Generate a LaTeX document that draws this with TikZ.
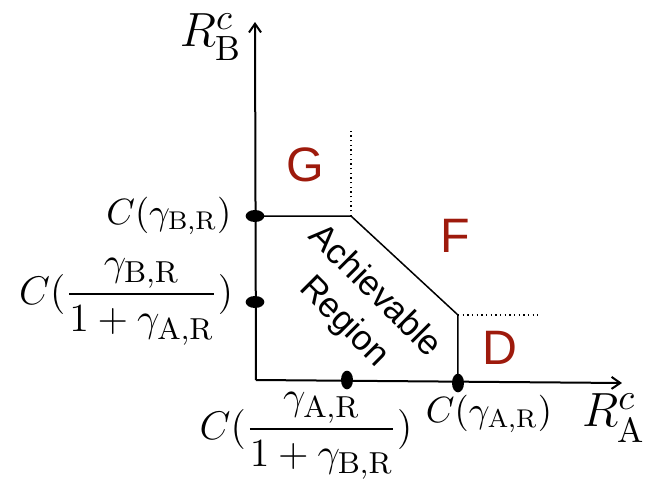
\documentclass[tikz,border=0pt]{standalone}
\usepackage{amsmath}
\usepackage{fontspec}
\newfontfamily\regfont{Liberation Sans}
\usetikzlibrary{arrows.meta, shapes.geometric, positioning}
\definecolor{rgRed}{HTML}{9E1A0C}
\tikzset{
  % axes, region boundary and its open continuations
  axisline/.style  = {-{Straight Barb[length=2.6pt, width=3.6pt]}, line width=0.6pt, black},
  bound/.style     = {line width=0.45pt, black},
  ext/.style       = {densely dotted, line width=0.4pt, black},
  hdot/.style      = {ellipse, fill=black, inner sep=0pt, minimum width=5.6pt, minimum height=3.6pt},
  vdot/.style      = {ellipse, fill=black, inner sep=0pt, minimum width=3.6pt, minimum height=5.6pt},
  rlbl/.style      = {font=\fontsize{11}{13}\selectfont},
  flbl/.style      = {font=\fontsize{13}{15}\selectfont},
  axlbl/.style     = {font=\fontsize{15}{17}\selectfont},
  zone/.style      = {rgRed, font=\regfont\fontsize{14.5}{16}\selectfont},
}
\begin{document}
\begin{tikzpicture}[x=0.3pt, y=-0.3pt]
  \useasboundingbox (0,0) rectangle (647,485);
  % axes
  \coordinate (O) at (256,380);
  \coordinate (xend) at (622,383);
  \coordinate (yend) at (255,22);
  \draw[axisline] (O) -- (xend);
  \draw[axisline] (O) -- (yend);
  \node[axlbl] (RA) at (614,418) {$R^c_{\mathrm{A}}$};
  \node[axlbl] (RB) at (211,37) {$R^c_{\mathrm{B}}$};
  % corners of the region
  \coordinate (Bmax) at (255,216);
  \coordinate (P1) at (351,216);
  \coordinate (P2) at (458,315);
  \coordinate (Amax) at (458,383);
  \coordinate (P1up) at (351,131);
  \coordinate (P2right) at (538,315);
  \draw[bound] (Bmax) -- (P1) -- (P2) -- (Amax);
  \draw[ext] (P1) -- (P1up);
  \draw[ext] (P2) -- (P2right);
  % rate points on the axes
  \node[hdot] (dB) at (Bmax) {};
  \node[hdot] (dBr) at (255,302) {};
  \node[vdot] (dAr) at (347,380) {};
  \node[vdot] (dA) at (Amax) {};
  \node[rlbl, anchor=east] (lB) at (243,216) {$C(\gamma_{\mathrm{B,R}})$};
  \node[flbl, anchor=east] (lBr) at (245,302) {$C(\dfrac{\gamma_{\mathrm{B,R}}}{1+\gamma_{\mathrm{A,R}}})$};
  \node[flbl] (lAr) at (306,436) {$C(\dfrac{\gamma_{\mathrm{A,R}}}{1+\gamma_{\mathrm{B,R}}})$};
  \node[rlbl] (lA) at (489,414) {$C(\gamma_{\mathrm{A,R}})$};
  % zones
  \node[zone] (G) at (305,165) {G};
  \node[zone] (F) at (455,236) {F};
  \node[zone] (D) at (500,348) {D};
  \node[rotate=-45, align=center, font=\regfont\fontsize{10.5}{13}\selectfont] (ach) at (359,307) {Achievable\\Region};
\end{tikzpicture}
\end{document}
